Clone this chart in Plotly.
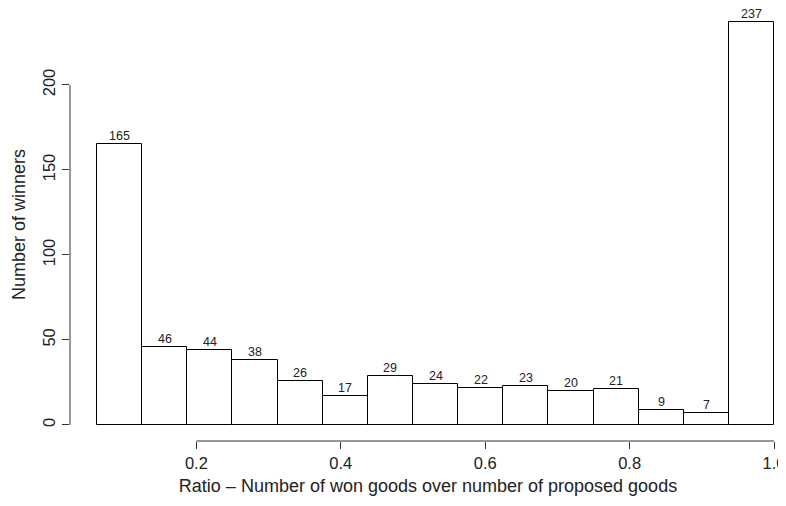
import plotly.graph_objects as go

# Data: histogram of ratios, bins of width 1/16 from 1/16 to 1
bin_width = 1 / 16
bin_lefts = [i / 16 for i in range(1, 16)]
counts = [165, 46, 44, 38, 26, 17, 29, 24, 22, 23, 20, 21, 9, 7, 237]
x_tick_vals = [0.2, 0.4, 0.6, 0.8, 1.0]
x_tick_text = ["0.2", "0.4", "0.6", "0.8", "1.0"]
y_tick_vals = [0, 50, 100, 150, 200]
y_tick_text = ["0", "50", "100", "150", "200"]

centers = [b + bin_width / 2 for b in bin_lefts]

FONT = "Liberation Sans, Arial, Helvetica, sans-serif"
TXT = "#222222"
AX = "#333333"

fig = go.Figure()
fig.add_trace(go.Bar(
    x=centers,
    y=counts,
    width=[bin_width] * len(counts),
    marker=dict(color="white", line=dict(color="black", width=1)),
    hoverinfo="x+y",
))

# count labels above bars
for xc, c in zip(centers, counts):
    fig.add_annotation(x=xc, y=c, text=str(c), showarrow=False,
                       yanchor="middle", yshift=8,
                       font=dict(family=FONT, size=12.5, color=TXT))

ymin = -0.04 * max(counts)
ymax = 245.3
xmin = bin_lefts[0] - 0.04 * (1.0 - bin_lefts[0])

fig.update_layout(
    width=778,
    height=490,
    margin=dict(l=62, r=0, t=0, b=57, autoexpand=False),
    paper_bgcolor="white",
    plot_bgcolor="white",
    showlegend=False,
    font=dict(family=FONT, color=TXT, size=16.5),
    bargap=0,
    xaxis=dict(
        range=[xmin, 1.0166],
        automargin=False,
        tickmode="array",
        tickvals=x_tick_vals,
        ticktext=x_tick_text,
        ticks="outside",
        ticklen=7,
        tickwidth=1,
        tickcolor=AX,
        showline=False,
        showgrid=False,
        zeroline=False,
        tickfont=dict(size=16.5, family=FONT, color=TXT),
        title=dict(text="Ratio \u2013 Number of won goods over number of proposed goods",
                   font=dict(size=18, family=FONT, color=TXT), standoff=8),
    ),
    yaxis=dict(
        range=[ymin, ymax],
        automargin=False,
        tickmode="array",
        tickvals=y_tick_vals,
        ticktext=y_tick_text,
        ticks="outside",
        ticklen=7,
        tickwidth=1,
        tickcolor=AX,
        tickangle=-90,
        showline=False,
        showgrid=False,
        zeroline=False,
        tickfont=dict(size=16.5, family=FONT, color=TXT),
        title=dict(text="Number of winners",
                   font=dict(size=18, family=FONT, color=TXT), standoff=10),
    ),
)

# R-style axis lines spanning only from first to last tick
fig.add_shape(type="line", xref="x", yref="paper",
              x0=x_tick_vals[0], x1=x_tick_vals[-1], y0=0, y1=0,
              line=dict(color=AX, width=1))
fig.add_shape(type="line", xref="paper", yref="y",
              x0=0, x1=0, y0=y_tick_vals[0], y1=y_tick_vals[-1],
              line=dict(color=AX, width=1))

fig.write_html("out.html")
